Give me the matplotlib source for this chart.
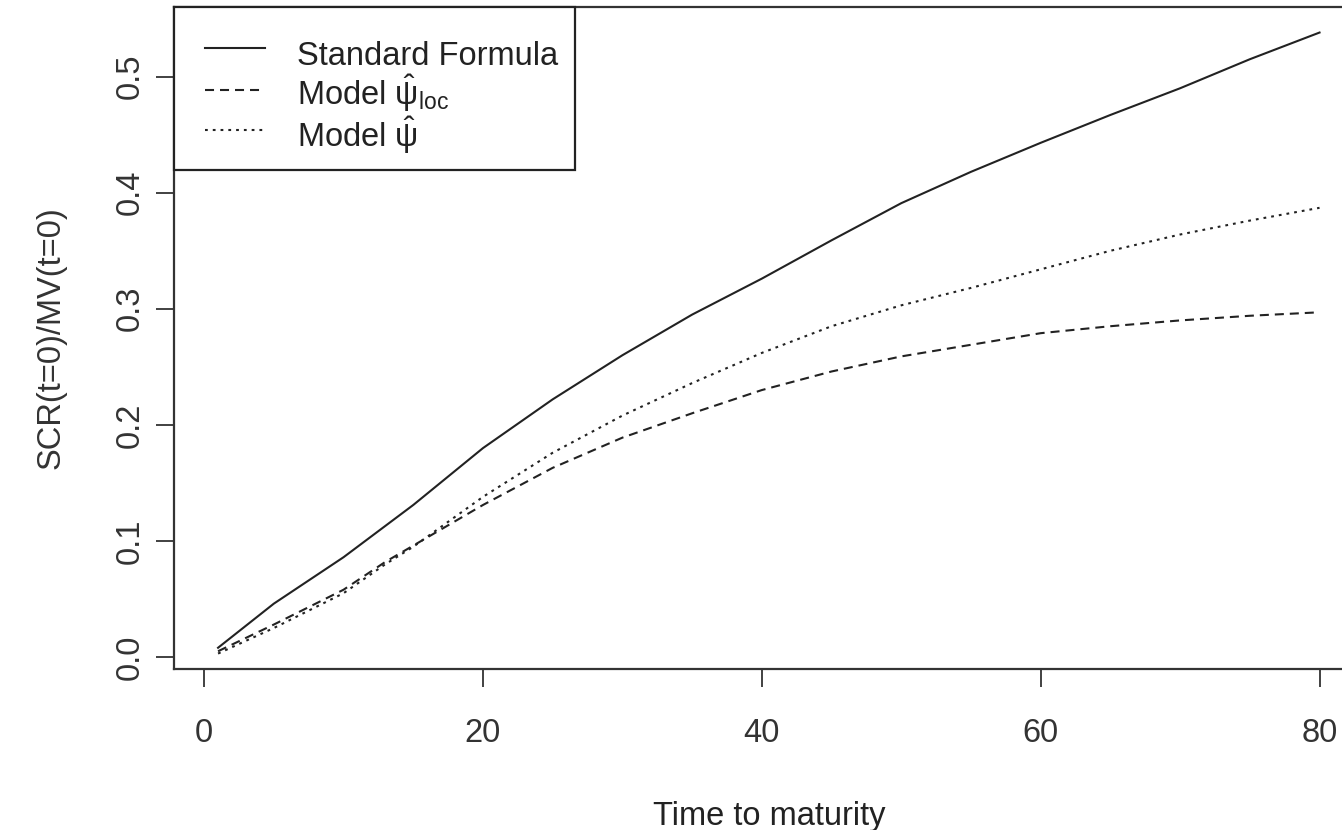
import matplotlib
matplotlib.use("Agg")
import matplotlib.pyplot as plt
from matplotlib.patches import Rectangle

# Time to maturity (years) and SCR/MV ratios for the three approaches
maturity = [1, 5, 10, 13, 15, 20, 25, 30, 35, 40, 45, 50, 55, 60, 65, 70, 75, 80]
standard_formula = [0.008, 0.046, 0.086, 0.113, 0.131, 0.180, 0.222, 0.260, 0.295,
                    0.326, 0.359, 0.391, 0.418, 0.443, 0.467, 0.490, 0.515, 0.538]
model_psi_loc = [0.005, 0.028, 0.058, 0.082, 0.096, 0.131, 0.163, 0.189, 0.210,
                 0.230, 0.246, 0.259, 0.269, 0.279, 0.285, 0.290, 0.294, 0.297]
model_psi_hat = [0.003, 0.025, 0.055, 0.080, 0.095, 0.138, 0.176, 0.208, 0.236,
                 0.262, 0.285, 0.303, 0.318, 0.334, 0.350, 0.364, 0.376, 0.387]

x_ticks = [0, 20, 40, 60, 80]
y_ticks = [0.0, 0.1, 0.2, 0.3, 0.4, 0.5]
legend_labels = ["Standard Formula", r"Model $\hat{\psi}_{\mathrm{loc}}$", r"Model $\hat{\psi}$"]

plt.rcParams["font.family"] = ["Liberation Sans", "DejaVu Sans"]
plt.rcParams["mathtext.fontset"] = "custom"
plt.rcParams["mathtext.rm"] = "Liberation Sans"
plt.rcParams["mathtext.it"] = "Liberation Sans"
plt.rcParams["mathtext.bf"] = "Liberation Sans:bold"
plt.rcParams["lines.scale_dashes"] = False

FS = 23.5
INK = "#222222"
LW = 1.5

fig = plt.figure(figsize=(13.42, 8.30), dpi=100)
ax = fig.add_axes([174 / 1342, 161 / 830, 1189.6 / 1342, 662 / 830])

styles = [dict(linestyle="-"),
          dict(dashes=(6.5, 4.3)),
          dict(dashes=(2.0, 3.6))]
series = [standard_formula, model_psi_loc, model_psi_hat]

for vals, st in zip(series, styles):
    ax.plot(maturity, vals, color=INK, lw=LW, **st)

ax.set_xlim(-2.16, 83.16)
ax.set_ylim(-0.0103, 0.560)
ax.set_xticks(x_ticks)
ax.set_xticklabels([str(v) for v in x_ticks])
ax.set_yticks(y_ticks)
ax.set_yticklabels([f"{v:.1f}" for v in y_ticks], rotation=90, va="center")

for sp in ax.spines.values():
    sp.set_color("#333333")
    sp.set_linewidth(1.6)

ax.tick_params(axis="both", length=13, width=1.3, color="#333333",
               labelsize=FS, labelcolor="#333333")
ax.tick_params(axis="x", pad=22)
ax.tick_params(axis="y", pad=7)

ax.set_xlabel("Time to maturity", fontsize=FS, color="#222222", labelpad=38)
ax.set_ylabel("SCR(t=0)/MV(t=0)", fontsize=FS, color="#333333", labelpad=35)

# Legend box in the top-left corner of the plot region
ax.add_patch(Rectangle((0.0, 0.754), 0.337, 0.246, transform=ax.transAxes,
                       facecolor="white", edgecolor="#222222", lw=1.6,
                       zorder=5, clip_on=False))
handle_y = [0.938, 0.875, 0.814]
text_y = [0.912, 0.852, 0.789]
for st, hy, ty, lab in zip(styles, handle_y, text_y, legend_labels):
    ax.plot([0.026, 0.0765], [hy, hy], transform=ax.transAxes, color=INK,
            lw=LW, zorder=6, clip_on=False, **st)
    ax.text(0.1034, ty, lab, transform=ax.transAxes, fontsize=FS,
            color="#222222", va="baseline", ha="left", zorder=6)

fig.savefig("out.png", dpi=100, facecolor="white")
